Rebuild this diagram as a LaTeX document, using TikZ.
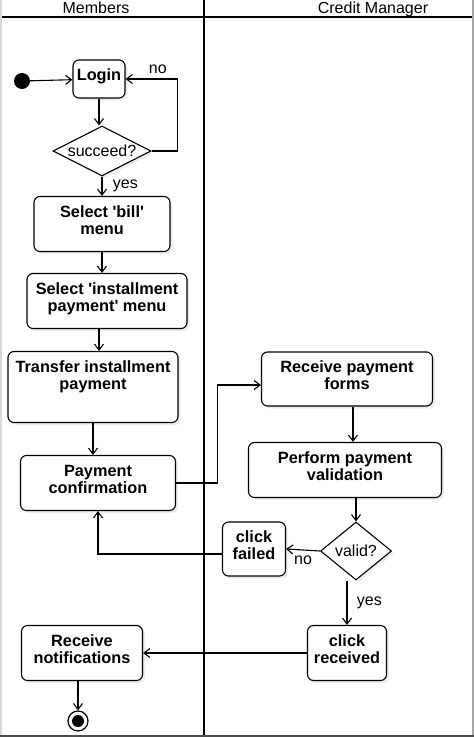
\documentclass[tikz,border=0pt]{standalone}
\usepackage{fontspec}
\setmainfont{Liberation Sans}[Ligatures=TeXOff]
\usetikzlibrary{arrows.meta, shapes.geometric, shadows}

\begin{document}
\begin{tikzpicture}[x=1pt, y=-1pt, >={Straight Barb[length=6pt,width=9pt]},
    act/.style={draw, line width=1.1pt, rounded corners=6pt, fill=white, align=center,
      inner sep=2pt, text depth=8pt, font=\fontsize{16.3}{17}\selectfont\bfseries,
      drop shadow={opacity=0.15, shadow xshift=2.5pt, shadow yshift=-2.5pt}},
    cond/.style={draw, diamond, line width=1.1pt, fill=white, inner sep=0pt,
      font=\fontsize{16}{19}\selectfont,
      drop shadow={opacity=0.15, shadow xshift=2.5pt, shadow yshift=-2.5pt}},
    flow/.style={->, line width=1.1pt},
    lbl/.style={font=\fontsize{16}{19}\selectfont}]
  \useasboundingbox (0,0) rectangle (474,737);

  % --- Lanes ---
  \draw[line width=2pt, black!15] (1,0) -- (1,737);
  \draw[line width=2pt, black!35] (473,0) -- (473,737);
  \draw[line width=2.4pt, black!70] (0,735.8) -- (474,735.8);
  \draw[line width=1.6pt] (2,17) -- (472,17);
  \draw[line width=1.6pt] (204,0) -- (204,735);
  \node[lbl, anchor=base] (memhead) at (96,13) {Members};
  \node[lbl, anchor=base] (credhead) at (373,13) {Credit Manager};

  % --- Members ---
  \node[circle, fill, minimum size=16pt, inner sep=0pt] (start) at (22,81) {};
  \node[act, minimum width=52pt, minimum height=38pt] (login) at (99,79) {Login};
  \node[cond, minimum width=98pt, minimum height=50pt] (succ) at (102,151) {\makebox[0pt]{succeed?}};
  \node[act, minimum width=136pt, minimum height=55pt] (bill) at (102,224) {Select 'bill'\\menu};
  \node[act, minimum width=160pt, minimum height=55pt] (inst) at (107,301) {Select 'installment\\payment' menu};
  \node[act, minimum width=170pt, minimum height=71pt, text depth=23pt] (transfer) at (93,387) {Transfer installment\\payment};
  \node[act, minimum width=155pt, minimum height=55pt] (payconf) at (98,483) {Payment\\confirmation};
  \node[act, minimum width=121pt, minimum height=55pt] (notif) at (82,653) {Receive\\notifications};
  \node[circle, draw, line width=1.2pt, minimum size=20pt, inner sep=0pt] (finish) at (78,721) {};
  \node[circle, fill, minimum size=12pt, inner sep=0pt] (finishdot) at (finish) {};

  % --- Credit Manager ---
  \node[act, minimum width=171pt, minimum height=54pt] (recvform) at (347,379) {Receive payment\\forms};
  \node[act, minimum width=193pt, minimum height=55pt] (validate) at (345,470) {Perform payment\\validation};
  \node[cond, minimum width=71pt, minimum height=58pt] (valid) at (356,551) {\makebox[0pt]{valid?}};
  \node[act, minimum width=63pt, minimum height=54pt] (failed) at (254,549) {click\\failed};
  \node[act, minimum width=79pt, minimum height=55pt] (received) at (347,653) {click\\received};

  % Flows
  \draw[flow] (start) -- (login);
  \draw[flow] (login.south) -- (login.south |- succ.north);
  \draw[flow] (succ.east) -- ++(26,0) |- (login.east) node[lbl, pos=0.69, above=1pt] {no};
  \draw[flow] (succ.south) -- (succ.south |- bill.north) node[lbl, midway, right=7pt] {yes};
  \draw[flow] (bill.south) -- (bill.south |- inst.north);
  \draw[flow] ([xshift=-8pt]inst.south) -- ([xshift=-8pt]inst.south |- transfer.north);
  \draw[flow] (transfer.south) -- (transfer.south |- payconf.north);
  \draw[flow] (payconf.east) -- ++(41,0) |- ([yshift=-6pt]recvform.west);
  \draw[flow] ([xshift=6pt]recvform.south) -- ([xshift=6pt]recvform.south |- validate.north);
  \draw[flow] (valid.north |- validate.south) -- (valid.north);
  \draw[flow] (valid.west) -- (failed.east) node[lbl, midway, below=2pt] {no};
  \draw[flow] ([yshift=-5pt]failed.west) -| (payconf.south);
  \draw[flow] (received.north |- valid.south) -- (received.north) node[lbl, midway, right=6pt] {yes};
  \draw[flow] (received.west) -- (notif.east);
  \draw[flow] (finish.north |- notif.south) -- (finish.north);
\end{tikzpicture}
\end{document}
